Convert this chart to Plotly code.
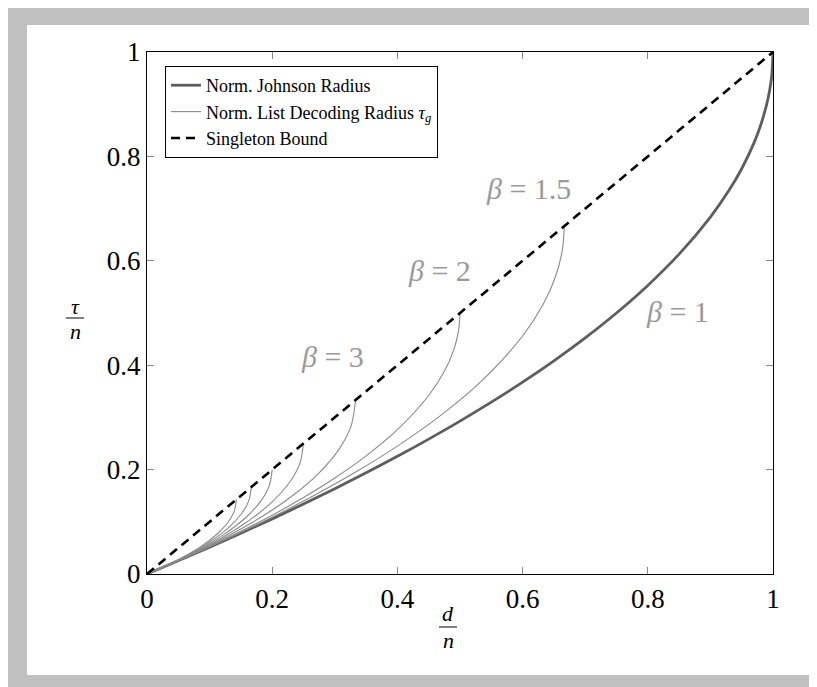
import plotly.graph_objects as go

# Normalized Johnson radius (beta = 1)
johnson_x = [0, 0.05, 0.1, 0.15, 0.2, 0.25, 0.3, 0.35, 0.4, 0.45, 0.5, 0.55, 0.6, 0.65,
             0.7, 0.75, 0.8, 0.85, 0.9, 0.93, 0.95, 0.97, 0.98, 0.99, 0.995, 0.998, 1.0]
johnson_y = [0, 0.0253, 0.0513, 0.0780, 0.1056, 0.1340, 0.1633, 0.1938, 0.2254, 0.2584,
             0.2929, 0.3292, 0.3675, 0.4084, 0.4523, 0.5, 0.5528, 0.6127, 0.6838, 0.7354,
             0.7764, 0.8268, 0.8586, 0.9, 0.9293, 0.9553, 1.0]

# Normalized list decoding radius tau_g for several beta
beta_labels = ["1.5", "2", "3", "4", "5", "6", "7"]
tg_x_b15 = [0, 0.0667, 0.1333, 0.2, 0.2667, 0.3333, 0.4, 0.4667, 0.5333, 0.6, 0.6333, 0.6533, 0.6633, 0.6667]
tg_y_b15 = [0, 0.0342, 0.0704, 0.1089, 0.1503, 0.1953, 0.2450, 0.3015, 0.3685, 0.4559, 0.5176, 0.5724, 0.6195, 0.6667]
tg_x_b2 = [0, 0.05, 0.1, 0.15, 0.2, 0.25, 0.3, 0.35, 0.4, 0.45, 0.475, 0.49, 0.4975, 0.5]
tg_y_b2 = [0, 0.0257, 0.0528, 0.0817, 0.1127, 0.1465, 0.1838, 0.2262, 0.2764, 0.3419, 0.3882, 0.4293, 0.4647, 0.5]
tg_x_b3 = [0, 0.0333, 0.0667, 0.1, 0.1333, 0.1667, 0.2, 0.2333, 0.2667, 0.3, 0.3167, 0.3267, 0.3333]
tg_y_b3 = [0, 0.0171, 0.0352, 0.0544, 0.0751, 0.0976, 0.1225, 0.1508, 0.1843, 0.2279, 0.2588, 0.2862, 0.3333]
tg_x_b4 = [0, 0.025, 0.05, 0.075, 0.1, 0.125, 0.15, 0.175, 0.2, 0.225, 0.2375, 0.245, 0.25]
tg_y_b4 = [0, 0.0128, 0.0264, 0.0408, 0.0564, 0.0732, 0.0919, 0.1131, 0.1382, 0.1710, 0.1941, 0.2147, 0.25]
tg_x_b5 = [0, 0.02, 0.04, 0.06, 0.08, 0.1, 0.12, 0.14, 0.16, 0.18, 0.19, 0.196, 0.2]
tg_y_b5 = [0, 0.0103, 0.0211, 0.0327, 0.0451, 0.0586, 0.0735, 0.0905, 0.1106, 0.1368, 0.1553, 0.1717, 0.2]
tg_x_b6 = [0, 0.0167, 0.0333, 0.05, 0.0667, 0.0833, 0.1, 0.1167, 0.1333, 0.15, 0.1583, 0.1633, 0.1667]
tg_y_b6 = [0, 0.0086, 0.0176, 0.0272, 0.0376, 0.0488, 0.0613, 0.0754, 0.0921, 0.1140, 0.1294, 0.1431, 0.1667]
tg_x_b7 = [0, 0.0143, 0.0286, 0.0429, 0.0571, 0.0714, 0.0857, 0.1, 0.1143, 0.1286, 0.1357, 0.14, 0.1429]
tg_y_b7 = [0, 0.0073, 0.0151, 0.0233, 0.0322, 0.0418, 0.0525, 0.0646, 0.0790, 0.0977, 0.1109, 0.1227, 0.1429]

# Singleton bound
singleton_x = [0, 1]
singleton_y = [0, 1]

# Tick labels
tick_vals = [0, 0.2, 0.4, 0.6, 0.8, 1]
tick_text = ["0", "0.2", "0.4", "0.6", "0.8", "1"]

# Curve labels
label_text = ["<i>β</i> = 1.5", "<i>β</i> = 2", "<i>β</i> = 3", "<i>β</i> = 1"]
label_x = [0.609, 0.468, 0.297, 0.847]
label_y = [0.739, 0.582, 0.416, 0.502]

SERIF = "Liberation Serif"
fig = go.Figure()

tg_curves = [(tg_x_b15, tg_y_b15), (tg_x_b2, tg_y_b2), (tg_x_b3, tg_y_b3), (tg_x_b4, tg_y_b4),
             (tg_x_b5, tg_y_b5), (tg_x_b6, tg_y_b6), (tg_x_b7, tg_y_b7)]

fig.add_trace(go.Scatter(x=johnson_x, y=johnson_y, mode="lines",
                         line=dict(color="#5e5e5e", width=2.8, shape="spline"),
                         name="Norm. Johnson Radius"))
for i, (xs, ys) in enumerate(tg_curves):
    fig.add_trace(go.Scatter(x=xs, y=ys, mode="lines",
                             line=dict(color="#8a8a8a", width=1.1, shape="spline"),
                             name="Norm. List Decoding Radius <i>τ</i><sub><i>g</i></sub>",
                             legendgroup="tg", showlegend=(i == 0)))
fig.add_trace(go.Scatter(x=singleton_x, y=singleton_y, mode="lines",
                         line=dict(color="black", width=2.6, dash="9px,6px"),
                         name="Singleton Bound"))

for t, x, y in zip(label_text, label_x, label_y):
    fig.add_annotation(x=x, y=y, text=t, showarrow=False, xanchor="center", yanchor="middle",
                       font=dict(family=SERIF, size=30, color="#9a9a9a"))

# page-pixel -> paper coordinate helpers (figure is placed at page offset 8,8)
def px_x(p):
    return (p - 147) / 626

def px_y(p):
    return (574 - p) / 522

# inner white panel on gray frame
fig.add_shape(type="rect", xref="paper", yref="paper", layer="below",
              x0=px_x(27), x1=px_x(810), y0=px_y(675), y1=px_y(25),
              fillcolor="white", line=dict(width=0))

# Axis titles as fractions
def frac(xc, ytop, ybot, yline, top, bot):
    fig.add_annotation(xref="paper", yref="paper", x=px_x(xc), y=px_y(ytop), text=top,
                       showarrow=False, xanchor="center", yanchor="middle",
                       font=dict(family=SERIF, size=22, color="black"))
    fig.add_annotation(xref="paper", yref="paper", x=px_x(xc), y=px_y(ybot), text=bot,
                       showarrow=False, xanchor="center", yanchor="middle",
                       font=dict(family=SERIF, size=22, color="black"))
    fig.add_shape(type="line", xref="paper", yref="paper", x0=px_x(xc - 9), x1=px_x(xc + 9),
                  y0=px_y(yline), y1=px_y(yline), line=dict(color="black", width=1))

frac(75, 306, 331, 318, "<i>τ</i>", "<i>n</i>")
frac(448, 613, 640, 627, "<i>d</i>", "<i>n</i>")

axis_common = dict(range=[0, 1], tickvals=tick_vals, ticktext=tick_text,
                   showgrid=False, zeroline=False, showline=True, linecolor="black",
                   linewidth=1.3, mirror="allticks", ticks="inside", ticklen=7,
                   tickcolor="#888888", tickwidth=1,
                   tickfont=dict(family=SERIF, size=27, color="black"))
fig.update_xaxes(**axis_common)
fig.update_yaxes(**axis_common)

fig.update_layout(
    width=807, height=679,
    margin=dict(l=139, r=42, t=44, b=113),
    paper_bgcolor="#c0c0c0", plot_bgcolor="white",
    showlegend=True,
    legend=dict(x=px_x(165), y=px_y(66), xanchor="left", yanchor="top",
                bgcolor="white", bordercolor="black", borderwidth=1,
                font=dict(family=SERIF, size=18, color="black"),
                tracegroupgap=0),
)

fig.write_html("out.html")
